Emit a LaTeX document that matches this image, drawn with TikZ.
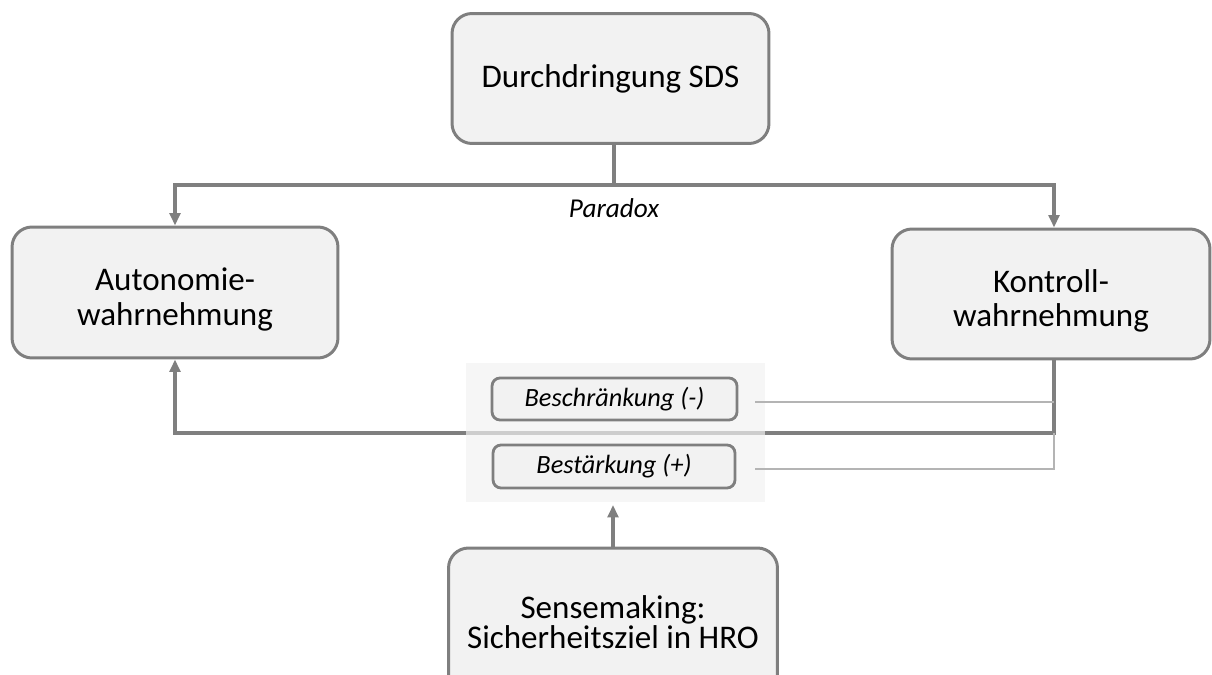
\documentclass[tikz,border=0pt]{standalone}
\usepackage{fontspec}
\setmainfont{Carlito}
\usepackage{xcolor}
\usepackage{tikz}
\usetikzlibrary{arrows.meta,positioning}
\tikzset{>={Triangle[length=7pt,width=6pt]}}
\definecolor{boxgray}{HTML}{7F7F7F}
\definecolor{boxfill}{HTML}{F2F2F2}
\definecolor{thingray}{HTML}{B4B4B4}

\begin{document}
\begin{tikzpicture}[x=0.02cm,y=-0.02cm,
                    bigbox/.style={draw=boxgray, line width=1.7pt, fill=boxfill, rounded corners=0.4cm,
                                   align=center, font=\fontsize{18.8}{19.5}\selectfont, inner sep=0pt},
                    smallbox/.style={draw=boxgray, line width=1.6pt, fill=boxfill, rounded corners=0.16cm,
                                   font=\fontsize{15}{17}\selectfont\itshape, inner sep=0pt},
                    conn/.style={draw=boxgray, line width=1.8pt},
                    thin/.style={draw=thingray, line width=0.8pt},
                   ]

\useasboundingbox (0,0) rectangle (1212,675);

% Kaesten
\node[bigbox, minimum width=6.34cm, minimum height=2.6cm] (sds) at (610.5,78.5) {Durchdringung SDS};
\node[bigbox, minimum width=6.52cm, minimum height=2.62cm] (auto) at (175,292.5) {\rule{0pt}{21pt}Autonomie-\\wahrnehmung};
\node[bigbox, minimum width=6.36cm, minimum height=2.6cm] (kontr) at (1051,294) {\rule{0pt}{21pt}Kontroll-\\wahrnehmung};
\node[bigbox, minimum width=6.58cm, minimum height=2.96cm,
      font=\fontsize{18.8}{15.5}\selectfont] (sense) at (613,622) {Sensemaking:\\Sicherheitsziel in HRO};

\coordinate (split) at (614,185);
\coordinate (fb) at (1054,433);

% Paradox
\draw[conn] (split |- sds.south) -- (split);
\draw[conn,->] (split) -| (auto.north);
\draw[conn,->] (split) -| (fb |- kontr.north);
\node[font=\fontsize{15.5}{17}\selectfont\itshape] (para) at (614,208) {Paradox};

% Rueckwirkung
\draw[conn,->] (fb |- kontr.south) -- (fb) -| (auto.south);

\node[fill=boxfill, fill opacity=0.68, minimum width=5.98cm, minimum height=2.78cm, inner sep=0pt] (feld) at (615.5,432.5) {};
\node[smallbox, minimum width=4.9cm, minimum height=0.84cm] (beschr) at (614.5,399) {Beschränkung (-)};
\node[smallbox, minimum width=4.84cm, minimum height=0.86cm] (bestaerk) at (614,466.5) {Bestärkung (+)};

\coordinate (b1) at (755,402);
\coordinate (b2) at (755,469);
\draw[thin] (b1) -- (fb |- b1);
\draw[thin] (b2) -| (fb);

\draw[conn,->, shorten >=1.5pt] (sense.north) -- (sense.north |- feld.south);

\end{tikzpicture}
\end{document}
